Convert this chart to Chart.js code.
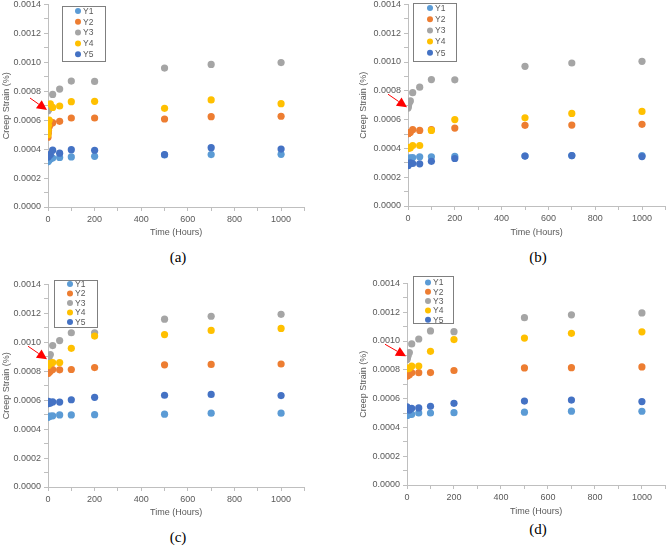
<!DOCTYPE html>
<html>
<head>
<meta charset="utf-8">
<title>Creep strain vs time</title>
<script src="https://cdn.jsdelivr.net/npm/chart.js@4.4.1/dist/chart.umd.min.js"></script>
<style>
  body { margin: 0; background: #fff; }
  #page { position: relative; width: 669px; height: 548px; overflow: hidden; background: #fff; }
  #page canvas { position: absolute; }
  .cap {
    position: absolute;
    font-family: "Liberation Serif", "Times New Roman", serif;
    font-size: 15px;
    color: #000;
    transform: translate(-50%, -50%);
  }
</style>
</head>
<body>
<div id="page">
  <canvas id="chartA"></canvas>
  <canvas id="chartB"></canvas>
  <canvas id="chartC"></canvas>
  <canvas id="chartD"></canvas>
  <div class="cap" style="left:178px;top:257px">(a)</div>
  <div class="cap" style="left:538px;top:257px">(b)</div>
  <div class="cap" style="left:178px;top:537px">(c)</div>
  <div class="cap" style="left:538px;top:529px">(d)</div>
</div>
<script>
// series names / colours (Excel default palette)
const seriesNames = ["Y1", "Y2", "Y3", "Y4", "Y5"];
const seriesColors = ["#5B9BD5", "#ED7D31", "#A5A5A5", "#FFC000", "#4472C4"];

// time in hours, shared by every series
const hours = [0, 1, 2, 5, 10, 20, 50, 100, 200, 500, 700, 1000];

// (a)
const aY1 = [0.000312, 0.000318, 0.000322, 0.000328, 0.000332, 0.000338, 0.000342, 0.000346, 0.00035, 0.00036, 0.000362, 0.000364];
const aY2 = [0.000482, 0.00051, 0.00053, 0.000555, 0.00057, 0.000583, 0.000592, 0.000615, 0.000615, 0.000608, 0.000624, 0.000627];
const aY3 = [0.000665, 0.00067, 0.000675, 0.00068, 0.00069, 0.000778, 0.000815, 0.00087, 0.000868, 0.00096, 0.000985, 0.000998];
const aY4 = [0.0005, 0.00053, 0.000565, 0.0006, 0.000712, 0.000688, 0.000698, 0.000728, 0.00073, 0.000682, 0.00074, 0.000714];
const aY5 = [0.000345, 0.00035, 0.000355, 0.00036, 0.000362, 0.000393, 0.000372, 0.000396, 0.000392, 0.000362, 0.00041, 0.0004];

// (b)
const bY1 = [0.00032, 0.000325, 0.00033, 0.000332, 0.000334, 0.000336, 0.000342, 0.000342, 0.000345, 0.000347, 0.00035, 0.00035];
const bY2 = [0.000502, 0.000503, 0.000505, 0.000508, 0.000512, 0.00053, 0.000525, 0.00053, 0.000541, 0.00056, 0.000562, 0.000567];
const bY3 = [0.00068, 0.00069, 0.0007, 0.000715, 0.00073, 0.000787, 0.000825, 0.000878, 0.000876, 0.00097, 0.000993, 0.001005];
const bY4 = [0.000402, 0.000402, 0.000403, 0.000404, 0.000404, 0.00042, 0.00042, 0.000525, 0.0006, 0.000612, 0.000643, 0.000657];
const bY5 = [0.00028, 0.000285, 0.00029, 0.000295, 0.0003, 0.000295, 0.000293, 0.00031, 0.00033, 0.000347, 0.00035, 0.000343];

// (c)
const cY1 = [0.000482, 0.000484, 0.000486, 0.000488, 0.00049, 0.000492, 0.000498, 0.000498, 0.0005, 0.000503, 0.00051, 0.00051];
const cY2 = [0.000785, 0.000787, 0.00079, 0.000795, 0.0008, 0.000812, 0.00081, 0.000812, 0.000825, 0.000844, 0.000847, 0.00085];
const cY3 = [0.00087, 0.00088, 0.00089, 0.0009, 0.000915, 0.000977, 0.001012, 0.001066, 0.001066, 0.00116, 0.00118, 0.001193];
const cY4 = [0.00084, 0.000842, 0.000845, 0.00085, 0.000855, 0.00086, 0.00086, 0.000958, 0.001043, 0.001053, 0.001082, 0.001096];
const cY5 = [0.000575, 0.00058, 0.000592, 0.000585, 0.00058, 0.000588, 0.000587, 0.000603, 0.00062, 0.000634, 0.00064, 0.000632];

// (d)
const dY1 = [0.000483, 0.000485, 0.000487, 0.000488, 0.00049, 0.000491, 0.0005, 0.0005, 0.000502, 0.000506, 0.000513, 0.000512];
const dY2 = [0.000757, 0.000758, 0.00076, 0.000762, 0.000765, 0.00078, 0.00078, 0.000781, 0.000795, 0.000813, 0.000815, 0.00082];
const dY3 = [0.000872, 0.00088, 0.00089, 0.0009, 0.00092, 0.00098, 0.001014, 0.00107, 0.001065, 0.001162, 0.001182, 0.001195];
const dY4 = [0.00081, 0.00081, 0.000808, 0.00081, 0.00081, 0.000825, 0.000826, 0.000928, 0.00101, 0.00102, 0.001053, 0.001064];
const dY5 = [0.000542, 0.000535, 0.00053, 0.000525, 0.00052, 0.000533, 0.000535, 0.000547, 0.000567, 0.000583, 0.00059, 0.000579];

const xMax = 1100;
const yMax = 0.0014;

const textColor = "#595959";
const axisColor = "#BFBFBF";
const fontFamily = "'Liberation Sans', Arial, sans-serif";

Chart.defaults.font.family = fontFamily;
Chart.defaults.color = textColor;

// legend box drawn inside the plot, like the Excel one
const insideLegend = {
  id: "insideLegend",
  afterDraw(chart, args, opts) {
    const ctx = chart.ctx;
    const b = opts.box;
    ctx.save();
    ctx.fillStyle = "#fff";
    ctx.fillRect(b.x, b.y, b.w, b.h);
    ctx.strokeStyle = "#7F7F7F";
    ctx.lineWidth = 1;
    ctx.strokeRect(Math.round(b.x) + 0.5, Math.round(b.y) + 0.5, b.w, b.h);
    ctx.font = "8.5px " + fontFamily;
    ctx.textBaseline = "middle";
    seriesNames.forEach((name, i) => {
      const y = b.y + b.first + i * b.gap;
      ctx.fillStyle = seriesColors[i];
      ctx.beginPath();
      ctx.arc(b.x + b.mark, y, 3, 0, Math.PI * 2);
      ctx.fill();
      ctx.fillStyle = textColor;
      ctx.fillText(name, b.x + b.mark + 5, y + 0.5);
    });
    ctx.restore();
  }
};

// red arrow pointing at the start of the curves
const redArrow = {
  id: "redArrow",
  afterDraw(chart, args, opts) {
    const ctx = chart.ctx;
    const tx = chart.scales.x.getPixelForValue(opts.at[0]) - 1;
    const ty = chart.scales.y.getPixelForValue(opts.at[1]);
    const sx = tx + opts.from[0];
    const sy = ty + opts.from[1];
    const ang = Math.atan2(ty - sy, tx - sx);
    const len = 10, half = 5;
    const bx = tx - Math.cos(ang) * len;
    const by = ty - Math.sin(ang) * len;
    ctx.save();
    ctx.strokeStyle = "#FF0000";
    ctx.fillStyle = "#FF0000";
    ctx.lineWidth = 1;
    ctx.beginPath();
    ctx.moveTo(sx, sy);
    ctx.lineTo(bx, by);
    ctx.stroke();
    ctx.beginPath();
    ctx.moveTo(tx, ty);
    ctx.lineTo(bx - Math.sin(ang) * half, by + Math.cos(ang) * half);
    ctx.lineTo(bx + Math.sin(ang) * half, by - Math.cos(ang) * half);
    ctx.closePath();
    ctx.fill();
    ctx.restore();
  }
};

function makePanel(id, g, values, legendBox, arrow) {
  const labelPad = 8;
  const top = Math.round(g.axisTop - labelPad);
  const bottom = g.xTitleY + 8;
  const canvas = document.getElementById(id);
  canvas.width = g.axisRight + 1 - g.left;
  canvas.height = bottom - top;
  canvas.style.left = g.left + "px";
  canvas.style.top = top + "px";

  const datasets = values.map((vals, i) => ({
    label: seriesNames[i],
    data: hours.map((h, k) => ({ x: h, y: vals[k] })),
    backgroundColor: seriesColors[i],
    borderWidth: 0,
    pointRadius: 3.6,
    pointHoverRadius: 3.6,
    order: 5 - i
  }));

  const lb = Object.assign({}, legendBox, { x: legendBox.x - g.left, y: legendBox.y - top });

  return new Chart(canvas, {
    type: "scatter",
    data: { datasets },
    options: {
      responsive: false,
      animation: false,
      layout: { padding: { left: 0, right: 1, top: 0, bottom: 0 } },
      plugins: {
        legend: { display: false },
        tooltip: { enabled: false },
        insideLegend: { box: lb },
        redArrow: arrow
      },
      scales: {
        x: {
          type: "linear",
          min: 0,
          max: xMax,
          afterFit(scale) { scale.height = bottom - g.axisBottom; },
          grid: { drawOnChartArea: false, drawTicks: true, tickLength: 4, color: axisColor },
          border: { color: axisColor },
          ticks: {
            stepSize: 100,
            autoSkip: false,
            maxRotation: 0,
            padding: 3,
            font: { size: 9 },
            callback: (v) => (v % 200 === 0 ? String(v) : "")
          },
          title: {
            display: true,
            text: "Time (Hours)",
            font: { size: 9 },
            padding: { top: 0, bottom: 2.6 }
          }
        },
        y: {
          type: "linear",
          min: 0,
          max: yMax,
          afterFit(scale) { scale.width = g.axisX - g.left; },
          grid: { drawOnChartArea: false, drawTicks: true, tickLength: 4, color: axisColor },
          border: { color: axisColor },
          ticks: {
            stepSize: 0.0001,
            autoSkip: false,
            padding: 3,
            font: { size: 9 },
            callback: (v) => (Math.round(v * 10000) % 2 === 0 ? v.toFixed(4) : "")
          },
          title: {
            display: true,
            text: "Creep Strain (%)",
            font: { size: 9 },
            padding: { top: g.yTitleX - g.left - 5.4, bottom: 0 }
          }
        }
      }
    },
    plugins: [insideLegend, redArrow]
  });
}

makePanel("chartA",
  { left: 0, axisX: 48, axisTop: 4, axisBottom: 207, axisRight: 307, yTitleX: 7, xTitleY: 233 },
  [aY1, aY2, aY3, aY4, aY5],
  { x: 62, y: 6, w: 43, h: 55, first: 5, gap: 10.8, mark: 16 },
  { at: [0, 0.00067], from: [-17, -12] });

makePanel("chartB",
  { left: 340, axisX: 408, axisTop: 4, axisBottom: 206, axisRight: 668, yTitleX: 364, xTitleY: 233 },
  [bY1, bY2, bY3, bY4, bY5],
  { x: 413, y: 3, w: 43, h: 58, first: 5, gap: 11.2, mark: 17 },
  { at: [0, 0.000686], from: [-19, -13] });

makePanel("chartC",
  { left: 0, axisX: 48, axisTop: 284, axisBottom: 487, axisRight: 307, yTitleX: 7, xTitleY: 513 },
  [cY1, cY2, cY3, cY4, cY5],
  { x: 54, y: 280, w: 43, h: 47, first: 4, gap: 9.5, mark: 16 },
  { at: [0, 0.000883], from: [-19, -13] });

makePanel("chartD",
  { left: 340, axisX: 407, axisTop: 283, axisBottom: 485, axisRight: 668, yTitleX: 364, xTitleY: 512 },
  [dY1, dY2, dY3, dY4, dY5],
  { x: 413, y: 276, w: 40, h: 47, first: 6.5, gap: 9.3, mark: 15 },
  { at: [0, 0.000894], from: [-21, -12] });
</script>
</body>
</html>
